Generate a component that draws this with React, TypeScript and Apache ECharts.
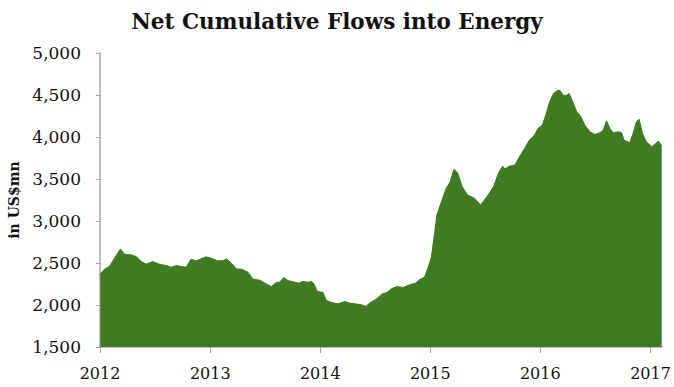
import React, { useEffect, useRef } from "react";
import * as echarts from "echarts";

// Weekly-ish readings of net cumulative flows into energy funds (US$ mn)
const dates: string[] = [
  "2012-01-02", "2012-01-05", "2012-01-16", "2012-02-01", "2012-02-18", "2012-03-09",
  "2012-03-22", "2012-04-13", "2012-04-30", "2012-05-17", "2012-06-02", "2012-06-24",
  "2012-07-16", "2012-08-08", "2012-08-24", "2012-09-10", "2012-09-26", "2012-10-13",
  "2012-10-29", "2012-11-15", "2012-12-01", "2012-12-18", "2013-01-04", "2013-01-26",
  "2013-02-12", "2013-02-25", "2013-03-12", "2013-03-29", "2013-04-14", "2013-05-06",
  "2013-05-23", "2013-06-14", "2013-07-01", "2013-07-11", "2013-07-23", "2013-08-08",
  "2013-08-19", "2013-09-02", "2013-09-16", "2013-10-08", "2013-10-21", "2013-11-04",
  "2013-11-21", "2013-12-04", "2013-12-13", "2013-12-21", "2014-01-10", "2014-01-21",
  "2014-02-07", "2014-03-01", "2014-03-23", "2014-04-09", "2014-05-01", "2014-05-17",
  "2014-06-01", "2014-06-14", "2014-07-06", "2014-07-26", "2014-08-10", "2014-08-25",
  "2014-09-12", "2014-10-02", "2014-10-24", "2014-11-13", "2014-11-26", "2014-12-13",
  "2014-12-24", "2015-01-05", "2015-01-13", "2015-01-23", "2015-02-07", "2015-02-23",
  "2015-03-08", "2015-03-20", "2015-04-02", "2015-04-17", "2015-05-05", "2015-05-28",
  "2015-06-17", "2015-07-08", "2015-07-30", "2015-08-15", "2015-08-29", "2015-09-06",
  "2015-09-21", "2015-10-09", "2015-10-24", "2015-11-10", "2015-11-26", "2015-12-13",
  "2015-12-24", "2016-01-08", "2016-01-21", "2016-02-01", "2016-02-15", "2016-02-26",
  "2016-03-06", "2016-03-17", "2016-03-29", "2016-04-06", "2016-04-20", "2016-05-01",
  "2016-05-14", "2016-05-28", "2016-06-14", "2016-06-30", "2016-07-17", "2016-07-28",
  "2016-08-08", "2016-08-19", "2016-08-30", "2016-09-16", "2016-09-27", "2016-10-05",
  "2016-10-24", "2016-11-04", "2016-11-15", "2016-11-24", "2016-12-05", "2016-12-18",
  "2017-01-05", "2017-01-16", "2017-01-27", "2017-02-07",
];

const flows: number[] = [
  2370, 2380, 2427, 2457, 2557, 2668,
  2605, 2597, 2576, 2517, 2486, 2517,
  2486, 2469, 2450, 2469, 2457, 2450,
  2545, 2525, 2549, 2573, 2557, 2525,
  2529, 2549, 2498, 2430, 2427, 2391,
  2308, 2296, 2260, 2240, 2220, 2267,
  2272, 2327, 2291, 2272, 2260, 2279,
  2272, 2279, 2240, 2165, 2149, 2054,
  2030, 2014, 2042, 2023, 2011, 2003,
  1983, 2023, 2070, 2133, 2149, 2193,
  2220, 2208, 2240, 2260, 2300, 2332,
  2438, 2576, 2795, 3072, 3230, 3389,
  3467, 3615, 3574, 3408, 3309, 3270,
  3190, 3289, 3408, 3567, 3654, 3620,
  3654, 3666, 3764, 3864, 3963, 4022,
  4102, 4141, 4280, 4418, 4525, 4549,
  4557, 4497, 4497, 4517, 4399, 4300,
  4248, 4141, 4062, 4030, 4050, 4082,
  4192, 4102, 4050, 4062, 4050, 3963,
  3931, 4042, 4180, 4212, 4042, 3943,
  3883, 3915, 3951, 3895,
];

const xStart = "2012-01-01";
const xEnd = "2017-02-08";
const yMin = 1500;
const yMax = 5000;
const yStep = 500;

const titleText = "Net Cumulative Flows into Energy";
const yAxisName = "in US$mn";

const SERIF = "'DejaVu Serif', 'Liberation Serif', serif";
const AREA_GREEN = "#3e7b23";
const AXIS_GREY = "#a6a6a6";
const DAY_MS = 24 * 3600 * 1000;

export default function App() {
  const ref = useRef<HTMLDivElement>(null);

  useEffect(() => {
    if (!ref.current) return;
    const chart = echarts.init(ref.current, undefined, { renderer: "svg" });
    chart.setOption({
      animation: false,
      backgroundColor: "#ffffff",
      title: {
        text: titleText,
        left: "center",
        top: 5,
        textStyle: {
          fontFamily: SERIF,
          fontWeight: "bold",
          fontSize: 21.5,
          color: "#111111",
        },
      },
      grid: {
        left: 100,
        right: 12,
        top: 53,
        bottom: 40,
        containLabel: false,
        outerBoundsMode: "none",
      },
      xAxis: {
        type: "time",
        min: xStart,
        max: xEnd,
        minInterval: 365 * DAY_MS,
        maxInterval: 366 * DAY_MS,
        splitLine: { show: false },
        axisLine: { show: true, lineStyle: { color: AXIS_GREY, width: 1.5 } },
        axisTick: { show: true, length: 6, lineStyle: { color: AXIS_GREY, width: 1 } },
        axisLabel: {
          formatter: "{yyyy}",
          fontFamily: SERIF,
          fontSize: 16,
          color: "#111111",
          margin: 18,
        },
      },
      yAxis: {
        type: "value",
        min: yMin,
        max: yMax,
        interval: yStep,
        name: yAxisName,
        nameLocation: "middle",
        nameRotate: 90,
        nameGap: 78,
        nameTextStyle: {
          fontFamily: SERIF,
          fontWeight: "bold",
          fontSize: 14,
          color: "#111111",
        },
        splitLine: { show: false },
        axisLine: { show: true, lineStyle: { color: AXIS_GREY, width: 1.5 } },
        axisTick: { show: true, length: 4, lineStyle: { color: AXIS_GREY, width: 1 } },
        axisLabel: {
          formatter: (v: number) => v.toLocaleString("en-US"),
          fontFamily: SERIF,
          fontSize: 17,
          color: "#111111",
          margin: 19,
        },
      },
      series: [
        {
          type: "line",
          data: dates.map((d, i) => [d, flows[i]]),
          showSymbol: false,
          lineStyle: { color: AREA_GREEN, width: 1 },
          areaStyle: { color: AREA_GREEN, opacity: 1, origin: "start" },
          itemStyle: { color: AREA_GREEN },
        },
      ],
    });
    return () => chart.dispose();
  }, []);

  return (
    <div
      ref={ref}
      style={{ position: "fixed", left: 0, top: 0, width: 674, height: 387 }}
    />
  );
}
